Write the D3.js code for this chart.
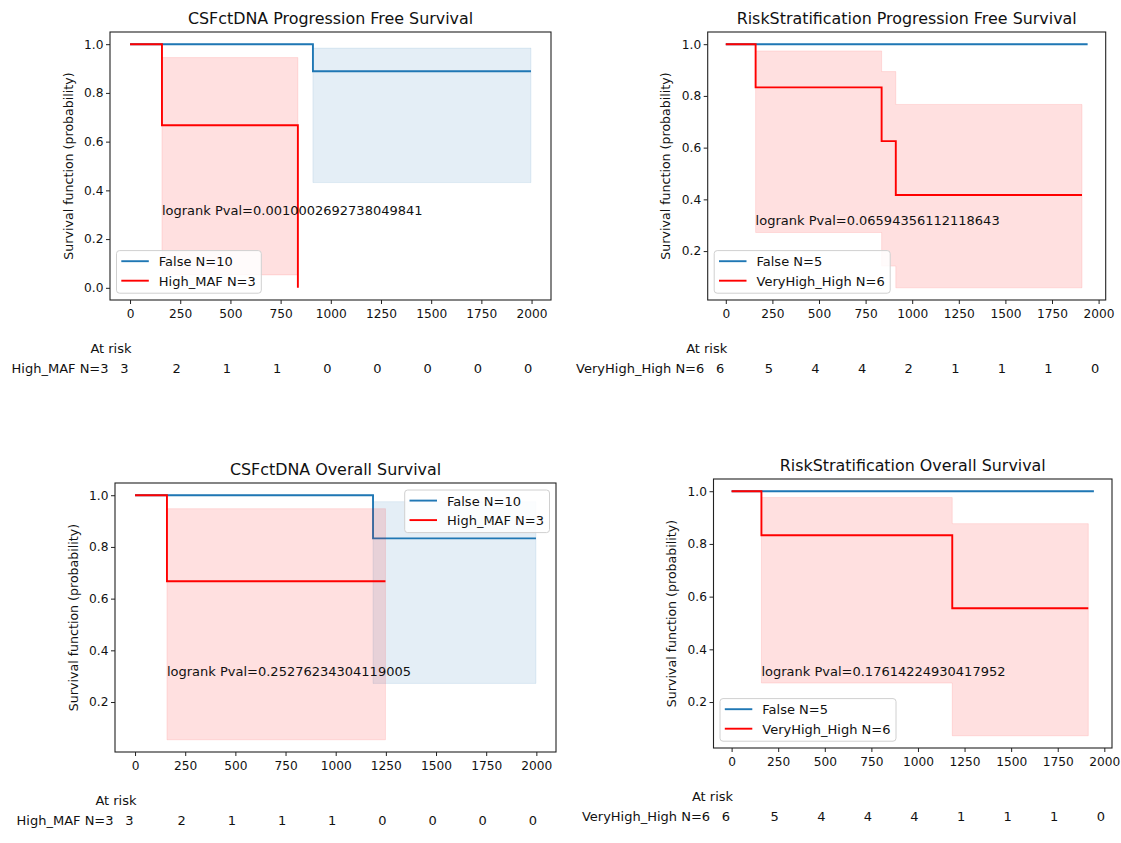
<!DOCTYPE html>
<html><head><meta charset="utf-8">
<script src="https://cdn.jsdelivr.net/npm/d3@7"></script>
<style>
body{margin:0;background:#fff;}
svg{display:block;font-family:"DejaVu Sans",sans-serif;}
</style></head><body>
<svg id="c" width="1121" height="843"></svg>
<script>
// ---------------- data ----------------
const timeTicks = [0, 250, 500, 750, 1000, 1250, 1500, 1750, 2000];
const survTicks = [0.0, 0.2, 0.4, 0.6, 0.8, 1.0];

// Panel 1: CSFctDNA Progression Free Survival
const pfsCsfFalseTime  = [0, 911, 1997];
const pfsCsfFalseSurv  = [1.0, 0.889, 0.889];
const pfsCsfFalseLower = [1.0, 0.432, 0.432];
const pfsCsfFalseUpper = [1.0, 0.984, 0.984];
const pfsCsfHighTime   = [0, 159, 836];
const pfsCsfHighSurv   = [1.0, 0.667, 0.0];
const pfsCsfHighLower  = [1.0, 0.053, 0.053];
const pfsCsfHighUpper  = [1.0, 0.945, 0.945];
const pfsCsfAtRisk     = [3, 2, 1, 1, 0, 0, 0, 0, 0];

// Panel 2: RiskStratification Progression Free Survival
const pfsRiskFalseTime  = [0, 1941];
const pfsRiskFalseSurv  = [1.0, 1.0];
const pfsRiskFalseLower = [1.0, 1.0];
const pfsRiskFalseUpper = [1.0, 1.0];
const pfsRiskHighTime   = [0, 160, 836, 912, 1911];
const pfsRiskHighSurv   = [1.0, 0.833, 0.625, 0.417, 0.417];
const pfsRiskHighLower  = [1.0, 0.272, 0.142, 0.058, 0.058];
const pfsRiskHighUpper  = [1.0, 0.974, 0.894, 0.767, 0.767];
const pfsRiskAtRisk     = [6, 5, 4, 4, 2, 1, 1, 1, 0];

// Panel 3: CSFctDNA Overall Survival
const osCsfFalseTime  = [0, 1186, 1998];
const osCsfFalseSurv  = [1.0, 0.833, 0.833];
const osCsfFalseLower = [1.0, 0.272, 0.272];
const osCsfFalseUpper = [1.0, 0.975, 0.975];
const osCsfHighTime   = [0, 159, 1248];
const osCsfHighSurv   = [1.0, 0.667, 0.667];
const osCsfHighLower  = [1.0, 0.054, 0.054];
const osCsfHighUpper  = [1.0, 0.948, 0.948];
const osCsfAtRisk     = [3, 2, 1, 1, 1, 0, 0, 0, 0];

// Panel 4: RiskStratification Overall Survival
const osRiskFalseTime  = [0, 1944];
const osRiskFalseSurv  = [1.0, 1.0];
const osRiskFalseLower = [1.0, 1.0];
const osRiskFalseUpper = [1.0, 1.0];
const osRiskHighTime   = [0, 160, 1184, 1914];
const osRiskHighSurv   = [1.0, 0.833, 0.556, 0.556];
const osRiskHighLower  = [1.0, 0.272, 0.072, 0.072];
const osRiskHighUpper  = [1.0, 0.976, 0.877, 0.877];
const osRiskAtRisk     = [6, 5, 4, 4, 4, 1, 1, 1, 0];

const titles = ["CSFctDNA Progression Free Survival", "RiskStratification Progression Free Survival",
                "CSFctDNA Overall Survival", "RiskStratification Overall Survival"];
const falseLabels = ["False N=10", "False N=5", "False N=10", "False N=5"];
const highLabels  = ["High_MAF N=3", "VeryHigh_High N=6", "High_MAF N=3", "VeryHigh_High N=6"];
const pvalTexts = ["logrank Pval=0.0010002692738049841", "logrank Pval=0.06594356112118643",
                   "logrank Pval=0.25276234304119005", "logrank Pval=0.17614224930417952"];
const legendLocs = ["lower left", "lower left", "upper right", "lower left"];
const yLabel = "Survival function (probability)";

// ---------------- layout ----------------
const frames = [
  {left: 110,   top: 32,  width: 441,   height: 268},
  {left: 707.7, top: 32,  width: 398,   height: 268},
  {left: 115,   top: 483, width: 441,   height: 269},
  {left: 713.5, top: 479, width: 398.5, height: 269}
];
const BLUE = "#1f77b4", RED = "#ff0000";
const FS = 13.0, YLFS = 12.6, TICKFS = 12.2, TITLEFS = 15.9;

function zipSeries(t, s, lo, hi) {
  return t.map((d, i) => ({t: d, s: s[i], lo: lo[i], hi: hi[i]}));
}
const panels = [
  {falseS: zipSeries(pfsCsfFalseTime, pfsCsfFalseSurv, pfsCsfFalseLower, pfsCsfFalseUpper),
   highS: zipSeries(pfsCsfHighTime, pfsCsfHighSurv, pfsCsfHighLower, pfsCsfHighUpper), atRisk: pfsCsfAtRisk},
  {falseS: zipSeries(pfsRiskFalseTime, pfsRiskFalseSurv, pfsRiskFalseLower, pfsRiskFalseUpper),
   highS: zipSeries(pfsRiskHighTime, pfsRiskHighSurv, pfsRiskHighLower, pfsRiskHighUpper), atRisk: pfsRiskAtRisk},
  {falseS: zipSeries(osCsfFalseTime, osCsfFalseSurv, osCsfFalseLower, osCsfFalseUpper),
   highS: zipSeries(osCsfHighTime, osCsfHighSurv, osCsfHighLower, osCsfHighUpper), atRisk: osCsfAtRisk},
  {falseS: zipSeries(osRiskFalseTime, osRiskFalseSurv, osRiskFalseLower, osRiskFalseUpper),
   highS: zipSeries(osRiskHighTime, osRiskHighSurv, osRiskHighLower, osRiskHighUpper), atRisk: osRiskAtRisk}
];

const svg = d3.select("#c");

panels.forEach((p, i) => {
  const f = frames[i];
  const all = p.falseS.concat(p.highS);
  const tMax = d3.max(all, d => d.t);
  const yMin = d3.min(all, d => Math.min(d.s, d.lo));
  const yMax = d3.max(all, d => Math.max(d.s, d.hi));
  const xm = tMax * 0.05, ym = (yMax - yMin) * 0.05;
  const x = d3.scaleLinear().domain([0 - xm, tMax + xm]).range([f.left, f.left + f.width]);
  const y = d3.scaleLinear().domain([yMin - ym, yMax + ym]).range([f.top + f.height, f.top]);
  const bottom = f.top + f.height;

  const g = svg.append("g");
  const clipId = "clip" + i;
  g.append("clipPath").attr("id", clipId).append("rect")
    .attr("x", f.left).attr("y", f.top).attr("width", f.width).attr("height", f.height);
  const plot = g.append("g").attr("clip-path", `url(#${clipId})`);

  const area = d3.area().curve(d3.curveStepAfter).x(d => x(d.t)).y0(d => y(d.lo)).y1(d => y(d.hi));
  const line = d3.line().curve(d3.curveStepAfter).x(d => x(d.t)).y(d => y(d.s));

  [[p.falseS, BLUE], [p.highS, RED]].forEach(([ser, col]) => {
    plot.append("path").attr("d", area(ser)).attr("fill", col).attr("fill-opacity", 0.12)
      .attr("stroke", col).attr("stroke-opacity", 0.1).attr("stroke-width", 1);
    plot.append("path").attr("d", line(ser)).attr("fill", "none").attr("stroke", col)
      .attr("stroke-width", 1.9);
  });

  // p-value text
  g.append("text").attr("x", x(p.highS[1].t)).attr("y", y(0.3))
    .attr("font-size", FS).attr("fill", "#111").text(pvalTexts[i]);

  // axes
  const xAxis = d3.axisBottom(x).tickValues(timeTicks).tickSize(4).tickPadding(5.8).tickFormat(d3.format("d"));
  const gx = g.append("g").attr("transform", `translate(0,${bottom})`).call(xAxis);
  const [d0, d1] = y.domain();
  const yAxis = d3.axisLeft(y).tickValues(survTicks.filter(v => v >= d0 && v <= d1))
    .tickSize(4).tickPadding(2.5).tickFormat(d3.format(".1f"));
  const gy = g.append("g").attr("transform", `translate(${f.left},0)`).call(yAxis);
  [gx, gy].forEach(a => {
    a.select(".domain").remove();
    a.selectAll("text").attr("font-size", TICKFS).attr("font-family", "DejaVu Sans").attr("fill", "#111");
    a.selectAll("line").attr("stroke", "#222").attr("stroke-width", 1);
  });

  // frame
  g.append("rect").attr("x", f.left).attr("y", f.top).attr("width", f.width).attr("height", f.height)
    .attr("fill", "none").attr("stroke", "#222").attr("stroke-width", 1.1);

  // title & y label
  g.append("text").attr("x", f.left + f.width / 2).attr("y", f.top - 8).attr("text-anchor", "middle")
    .attr("font-size", TITLEFS).attr("fill", "#111").text(titles[i]);
  g.append("text").attr("transform", `translate(${f.left - 42},${f.top + f.height / 2}) rotate(-90)`)
    .attr("text-anchor", "middle").attr("dominant-baseline", "central")
    .attr("font-size", YLFS).attr("fill", "#111").text(yLabel);

  // legend
  const lg = g.append("g");
  const tmp = lg.append("text").attr("font-size", FS).text(highLabels[i]);
  const tw = Math.max(tmp.node().getComputedTextLength(), 0);
  tmp.remove();
  const lw = 42.3 + tw + 5.5, lh = 42.6;
  const lx = legendLocs[i] === "upper right" ? f.left + f.width - 6.5 - lw : f.left + 6.5;
  const ly = legendLocs[i] === "upper right" ? f.top + 7 : bottom - 6.8 - lh;
  lg.append("rect").attr("x", lx).attr("y", ly).attr("width", lw).attr("height", lh).attr("rx", 3)
    .attr("fill", "#fff").attr("fill-opacity", 0.85).attr("stroke", "#d0d0d0").attr("stroke-width", 1);
  [[falseLabels[i], BLUE], [highLabels[i], RED]].forEach(([lab, col], k) => {
    const cy = ly + 10.6 + k * 19.5;
    lg.append("line").attr("x1", lx + 4.8).attr("x2", lx + 32.3).attr("y1", cy).attr("y2", cy)
      .attr("stroke", col).attr("stroke-width", 1.9);
    lg.append("text").attr("x", lx + 42.3).attr("y", cy + 5.2).attr("font-size", FS).attr("fill", "#111").text(lab);
  });

  // at-risk table
  const ar = g.append("g").attr("font-size", FS).attr("fill", "#111");
  ar.append("text").attr("x", x(0) + 1.5).attr("y", bottom + 52.5).attr("text-anchor", "end").text("At risk");
  const rowY = bottom + 72.5;
  ar.append("text").attr("x", x(0) - 21.5).attr("y", rowY).attr("text-anchor", "end").text(highLabels[i]);
  ar.append("text").attr("x", x(0) - 1.5).attr("y", rowY).attr("text-anchor", "end").text(p.atRisk[0]);
  ar.selectAll("text.cnt").data(timeTicks.slice(1)).enter().append("text").attr("class", "cnt")
    .attr("x", d => x(d) - 3.5).attr("y", rowY).attr("text-anchor", "middle")
    .text((d, k) => p.atRisk[k + 1]);
});
</script>
</body></html>
